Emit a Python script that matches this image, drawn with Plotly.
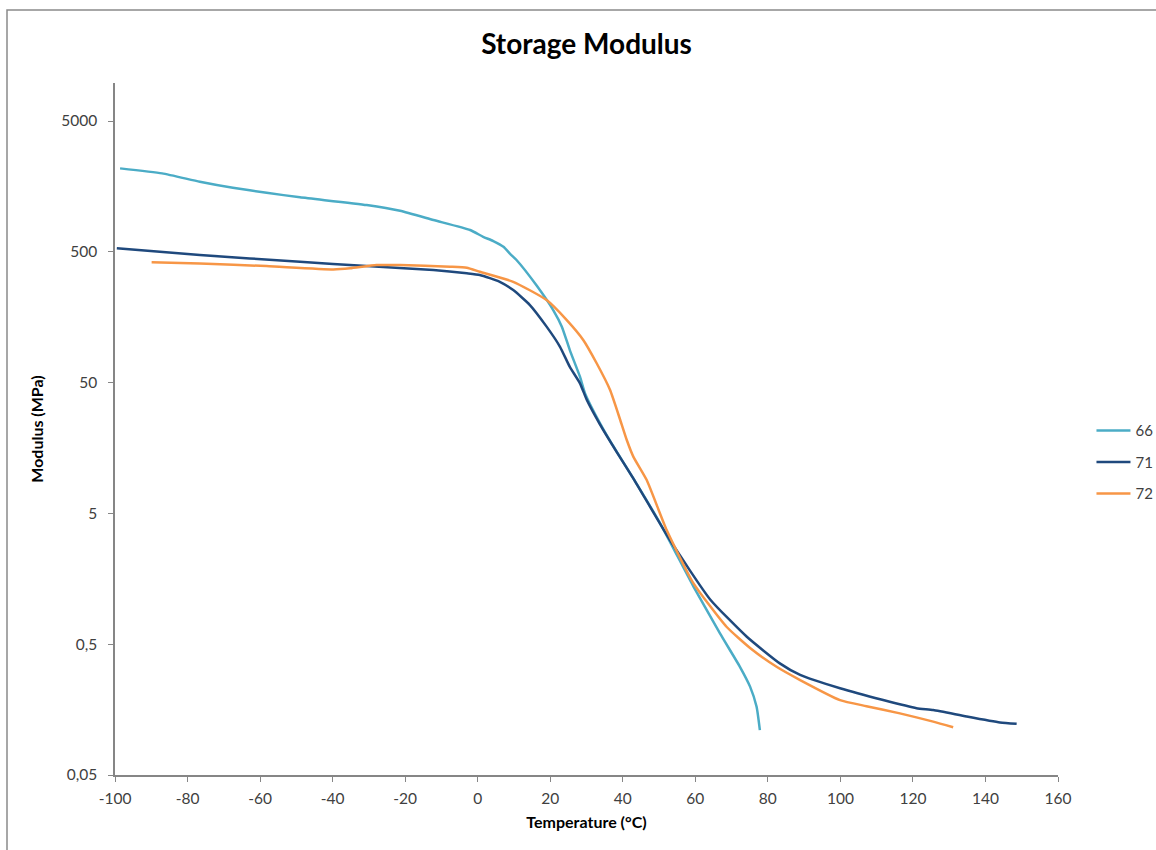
import plotly.graph_objects as go
import math

# Series 66
t66 = [-98.6, -87.0, -76.6, -67.5, -58.2, -49.0, -30.6, -21.4, -12.2, -2.1, 1.5, 4.3, 7.1, 9.0, 10.7, 16.3,
       20.9, 23.2, 25.4, 28.2, 29.6, 33.7, 36.5, 39.3, 42.9, 50.3, 59.5, 66.8, 72.3, 75.1, 76.9, 77.8]
m66 = [2174, 1990, 1718, 1545, 1415, 1306, 1140, 1030, 875, 734, 652, 605, 547, 481, 433, 275,
       178, 134, 88.7, 55.5, 41.4, 24.5, 17.9, 13.4, 9.27, 4.2, 1.38, 0.605, 0.336, 0.237, 0.166, 0.110]

# Series 71
t71 = [-99.5, -76.6, -49.0, -30.6, -12.2, -3.0, 0.6, 6.1, 9.8, 14.4, 19.0, 22.7, 25.4, 28.2, 30.1,
       33.7, 38.3, 42.9, 53.0, 64.1, 74.2, 83.3, 88.9, 99.9, 111.8, 121.0, 125.6, 134.8,
       144.0, 148.6]
m71 = [532, 473, 420, 389, 363, 343, 333, 295, 255, 196, 134, 94, 66, 49.4, 36.8,
       24.0, 14.8, 9.27, 3.13, 1.1, 0.57, 0.357, 0.291, 0.230, 0.187, 0.162, 0.157, 0.140,
       0.126, 0.123]

# Series 72
t72 = [-89.9, -76.6, -58.2, -39.8, -35.2, -27.9, -21.4, -7.6, -3.0, 0.6, 9.8, 19.0, 24.5, 29.1, 32.8,
       36.5, 39.3, 41.1, 42.9, 46.6, 52.1, 59.5, 68.6, 75.1, 82.4, 88.9, 99.9, 107.2, 116.4, 125.6, 131.1]
m72 = [416, 408, 389, 367, 374, 396, 396, 385, 378, 352, 295, 214, 151, 106, 70.3,
       43.9, 25.9, 18.2, 13.6, 9.0, 3.73, 1.46, 0.68, 0.468, 0.336, 0.266, 0.187, 0.168, 0.148, 0.128, 0.116]

series = [("66", t66, m66, "#4BACC6"), ("71", t71, m71, "#1F497D"), ("72", t72, m72, "#F79646")]

xticks = [-100, -80, -60, -40, -20, 0, 20, 40, 60, 80, 100, 120, 140, 160]
yticks = [0.05, 0.5, 5, 50, 500, 5000]
yticktext = ["0,05", "0,5", "5", "50", "500", "5000"]

fig = go.Figure()
for name, t, m, c in series:
    fig.add_trace(go.Scatter(x=t, y=m, mode="lines", name=name, legendgroup=name,
                             line=dict(color=c, width=2.5, shape="spline", smoothing=0.5)))

font_family = "Lato, 'Liberation Sans', sans-serif"
fig.update_layout(
    width=1156, height=850,
    margin=dict(l=115, r=98, t=83, b=75, autoexpand=False),
    paper_bgcolor="white", plot_bgcolor="white",
    title=dict(text="<b>Storage Modulus</b>", x=0.5, xanchor="center", xref="paper",
               y=1 - 44 / 850, yanchor="middle",
               font=dict(family=font_family, size=28, color="black")),
    font=dict(family=font_family, size=15, color="#404040"),
    legend=dict(x=1.0355, xanchor="left", y=0.452, yanchor="middle",
                font=dict(size=15, color="#404040"), tracegroupgap=9,
                itemwidth=34, bgcolor="rgba(0,0,0,0)"),
    showlegend=True,
)
fig.update_xaxes(range=[-100, 160], tickvals=xticks, ticktext=[str(v) for v in xticks],
                 showline=True, linecolor="#868686", linewidth=1.5,
                 ticks="outside", ticklen=5, tickcolor="#868686",
                 tickfont=dict(size=15.5), ticklabelstandoff=4,
                 showgrid=False, zeroline=False,
                 title=dict(text="<b>Temperature (°C)</b>", font=dict(size=16, color="black"), standoff=10))
fig.update_yaxes(type="log", range=[math.log10(0.05), 3.99], tickvals=yticks, ticktext=yticktext,
                 showline=True, linecolor="#868686", linewidth=1.5,
                 ticks="outside", ticklen=5, tickcolor="#868686",
                 tickfont=dict(size=15.5), ticklabelstandoff=8,
                 showgrid=False, zeroline=False,
                 title=dict(text="<b>Modulus (MPa)</b>", font=dict(size=16, color="black"), standoff=14))

# outer chart border (left and top edges visible)
pw, ph = 1156 - 115 - 98, 850 - 83 - 75
fig.add_shape(type="rect", xref="paper", yref="paper",
              x0=(7 - 115) / pw, x1=(1200 - 115) / pw,
              y0=-(900 - 775) / ph, y1=1 + (83 - 10) / ph,
              line=dict(color="#8a8a8a", width=1.5), fillcolor="rgba(0,0,0,0)", layer="below")

fig.write_html("out.html")
